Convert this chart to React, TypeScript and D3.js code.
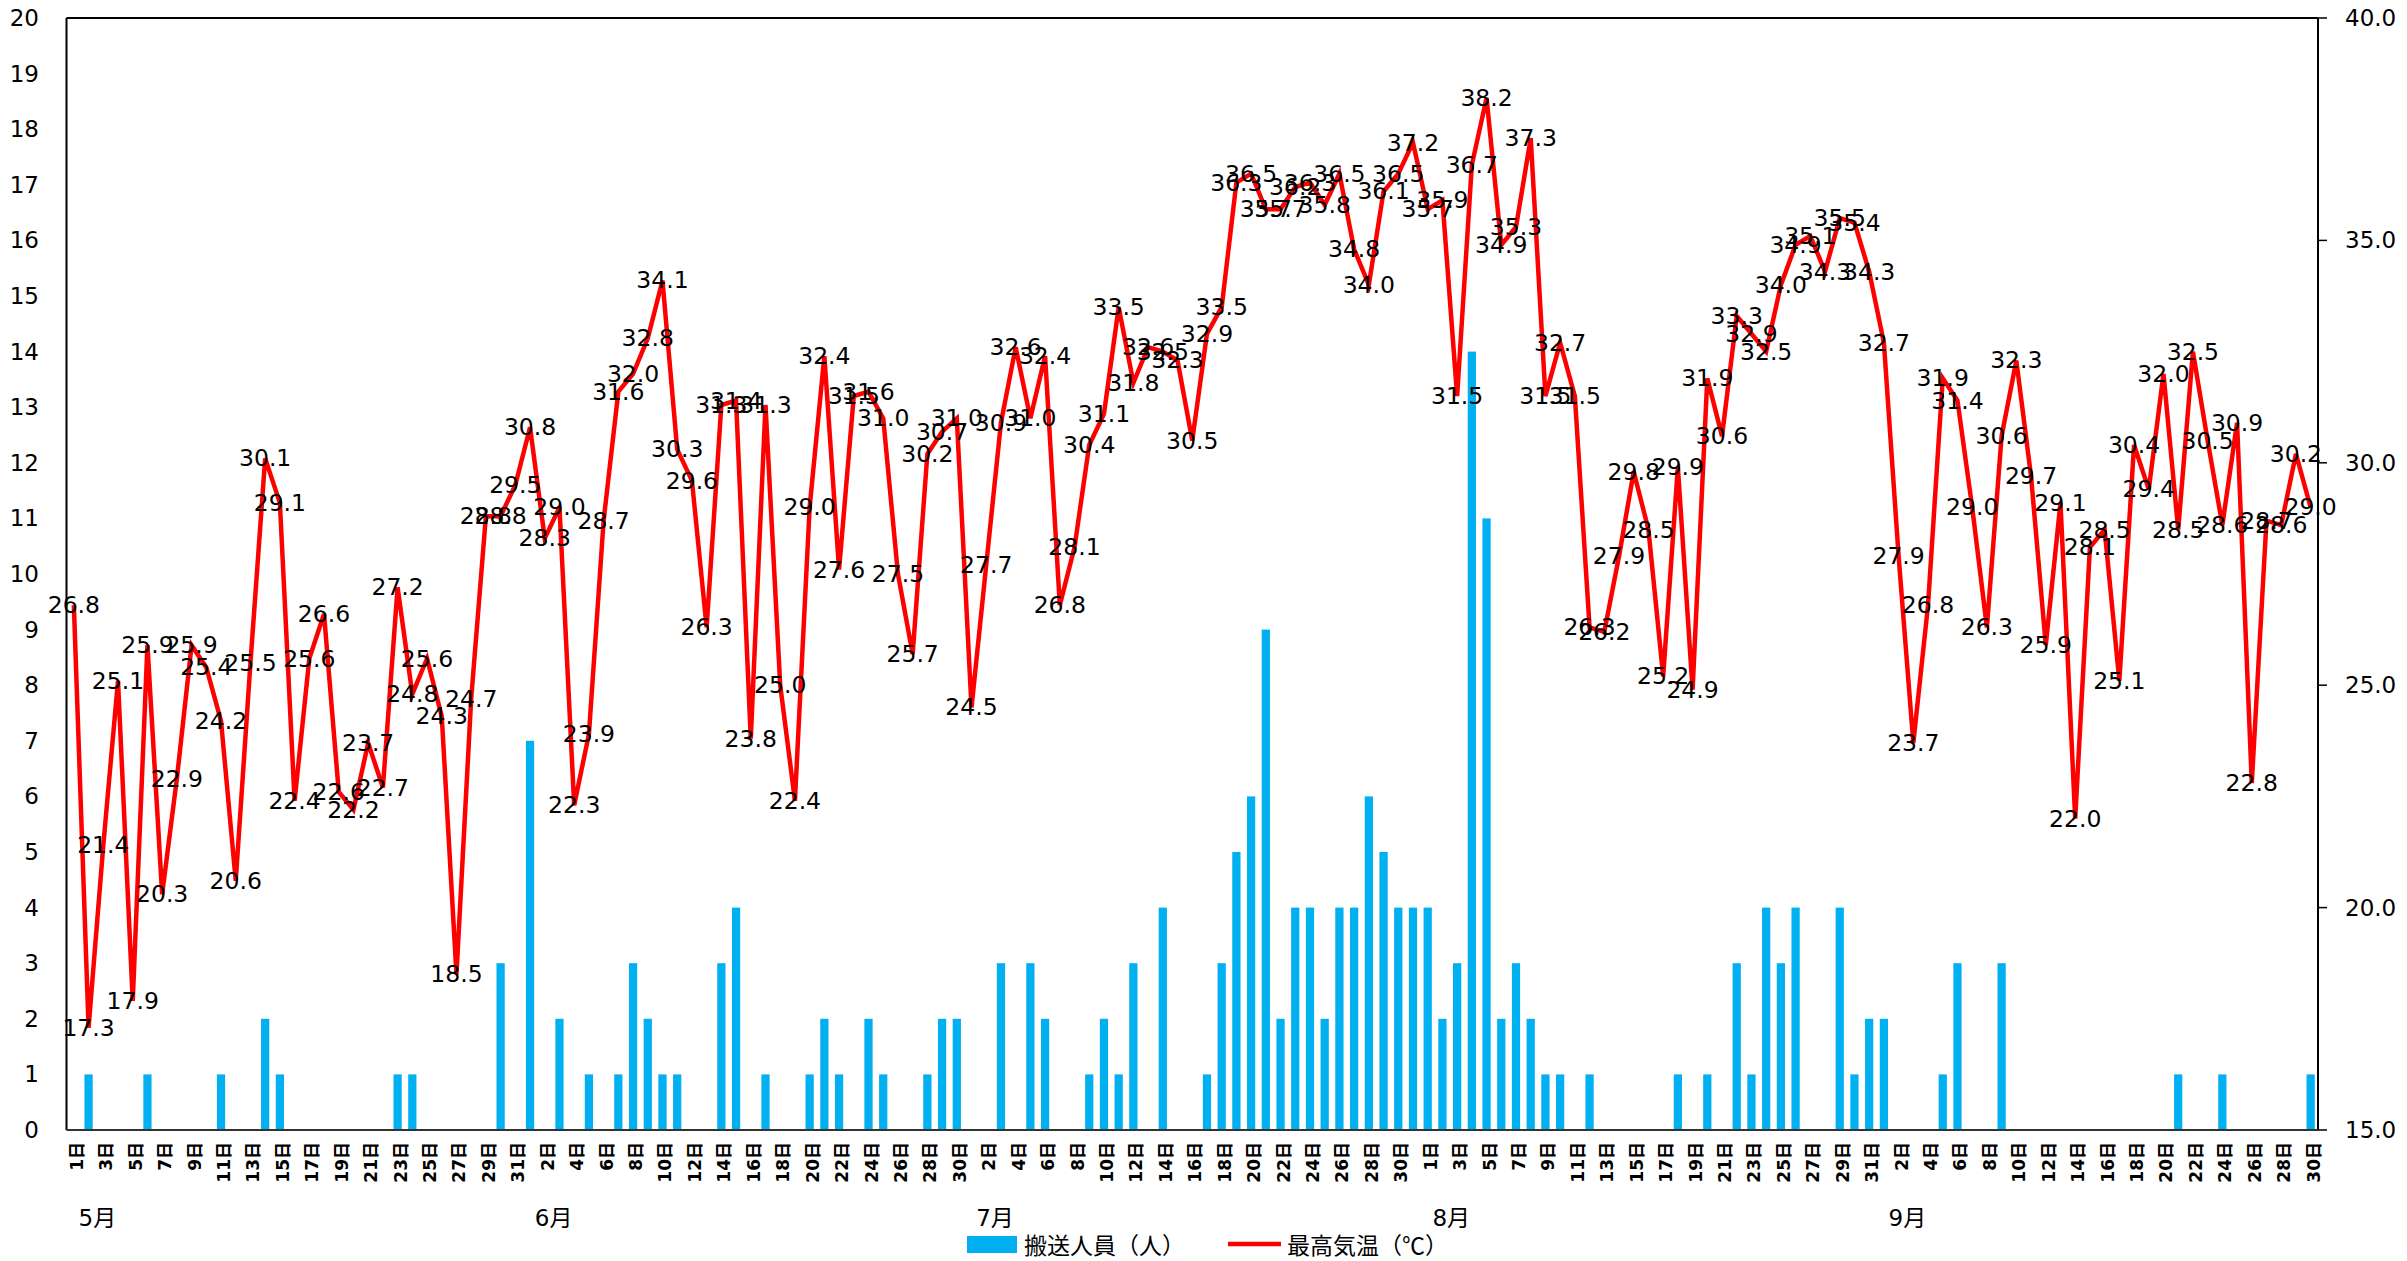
import React from 'react'
import { scaleBand, scaleLinear, line, range, format } from 'd3'

// month names on the second row of the x axis
const monthNames = ['5月', '6月', '7月', '8月', '9月']

// max temperature per day (℃)
const tempMay = [26.8, 17.3, 21.4, 25.1, 17.9, 25.9, 20.3, 22.9, 25.9, 25.4, 24.2, 20.6, 25.5, 30.1, 29.1, 22.4, 25.6, 26.6, 22.6, 22.2, 23.7, 22.7, 27.2, 24.8, 25.6, 24.3, 18.5, 24.7, 28.8, 28.8, 29.5]
const tempJun = [30.8, 28.3, 29.0, 22.3, 23.9, 28.7, 31.6, 32.0, 32.8, 34.1, 30.3, 29.6, 26.3, 31.3, 31.4, 23.8, 31.3, 25.0, 22.4, 29.0, 32.4, 27.6, 31.5, 31.6, 31.0, 27.5, 25.7, 30.2, 30.7, 31.0]
const tempJul = [24.5, 27.7, 30.9, 32.6, 31.0, 32.4, 26.8, 28.1, 30.4, 31.1, 33.5, 31.8, 32.6, 32.5, 32.3, 30.5, 32.9, 33.5, 36.3, 36.5, 35.7, 35.7, 36.2, 36.3, 35.8, 36.5, 34.8, 34.0, 36.1, 36.5, 37.2]
const tempAug = [35.7, 35.9, 31.5, 36.7, 38.2, 34.9, 35.3, 37.3, 31.5, 32.7, 31.5, 26.3, 26.2, 27.9, 29.8, 28.5, 25.2, 29.9, 24.9, 31.9, 30.6, 33.3, 32.9, 32.5, 34.0, 34.9, 35.1, 34.3, 35.5, 35.4, 34.3]
const tempSep = [32.7, 27.9, 23.7, 26.8, 31.9, 31.4, 29.0, 26.3, 30.6, 32.3, 29.7, 25.9, 29.1, 22.0, 28.1, 28.5, 25.1, 30.4, 29.4, 32.0, 28.5, 32.5, 30.5, 28.6, 30.9, 22.8, 28.7, 28.6, 30.2, 29.0]

// transported people per day
const peopleMay = [0, 1, 0, 0, 0, 1, 0, 0, 0, 0, 1, 0, 0, 2, 1, 0, 0, 0, 0, 0, 0, 0, 1, 1, 0, 0, 0, 0, 0, 3, 0]
const peopleJun = [7, 0, 2, 0, 1, 0, 1, 3, 2, 1, 1, 0, 0, 3, 4, 0, 1, 0, 0, 1, 2, 1, 0, 2, 1, 0, 0, 1, 2, 2]
const peopleJul = [0, 0, 3, 0, 3, 2, 0, 0, 1, 2, 1, 3, 0, 4, 0, 0, 1, 3, 5, 6, 9, 2, 4, 4, 2, 4, 4, 6, 5, 4, 4]
const peopleAug = [4, 2, 3, 14, 11, 2, 3, 2, 1, 1, 0, 1, 0, 0, 0, 0, 0, 1, 0, 1, 0, 3, 1, 4, 3, 4, 0, 0, 4, 1, 2]
const peopleSep = [2, 0, 0, 0, 1, 3, 0, 0, 3, 0, 0, 0, 0, 0, 0, 0, 0, 0, 0, 0, 1, 0, 0, 1, 0, 0, 0, 0, 0, 1]

const leftTicks = range(0, 21)
const rightTicks = [15, 20, 25, 30, 35, 40]

const legendBar = '搬送人員（人）'
const legendLine = '最高気温（℃）'

const numFont = '"DejaVu Sans", "Noto Sans CJK JP", sans-serif'
const jpFont = '"Noto Sans CJK JP", sans-serif'

type Day = { month: number; day: number; temp: number; people: number }

const App = () => {
  const temps = [tempMay, tempJun, tempJul, tempAug, tempSep]
  const people = [peopleMay, peopleJun, peopleJul, peopleAug, peopleSep]

  const days: Day[] = []
  const monthStart: number[] = []
  temps.forEach((arr, m) => {
    monthStart.push(days.length)
    arr.forEach((t, d) => days.push({ month: m, day: d + 1, temp: t, people: people[m][d] }))
  })

  const left = 66.5, right = 2318, top = 18, bottom = 1130

  const x = scaleBand<number>()
    .domain(days.map((_, i) => i))
    .range([left, right])
    .paddingInner(0.44)
    .paddingOuter(0.22)
  const step = x.step()
  const cx = (i: number) => (x(i) as number) + x.bandwidth() / 2

  const yL = scaleLinear().domain([0, 20]).range([bottom, top])
  const yR = scaleLinear().domain([15, 40]).range([bottom, top])

  const path = line<Day>()
    .x((_, i) => cx(i))
    .y((d) => yR(d.temp))(days) as string

  const f1 = format('.1f')

  return (
    <svg width={2407} height={1261} style={{ position: 'absolute', left: 0, top: 0, background: '#fff' }}>
      {/* bars */}
      {days.map((d, i) =>
        d.people > 0 ? (
          <rect key={'b' + i} x={x(i)} y={yL(d.people)} width={x.bandwidth()} height={bottom - yL(d.people)} fill="#00B0F0" />
        ) : null
      )}

      {/* temperature line */}
      <path d={path} fill="none" stroke="#FF0000" strokeWidth={4.5} strokeLinejoin="miter" />

      {/* data labels */}
      {days.map((d, i) => (
        <text key={'l' + i} x={cx(i)} y={yR(d.temp)} textAnchor="middle" dominantBaseline="central"
          fontFamily={numFont} fontSize={23.5} fill="#000">
          {f1(d.temp)}
        </text>
      ))}

      {/* frame + axes */}
      <line x1={left} x2={right} y1={top} y2={top} stroke="#000" strokeWidth={2} />
      <line x1={left} x2={left} y1={top} y2={bottom} stroke="#000" strokeWidth={2} />
      <line x1={right} x2={right} y1={top} y2={bottom} stroke="#000" strokeWidth={2} />
      <line x1={left} x2={right} y1={bottom} y2={bottom} stroke="#333" strokeWidth={2} />

      {leftTicks.map((t) => (
        <text key={'yl' + t} x={39} y={yL(t)} textAnchor="end" dominantBaseline="central" fontFamily={numFont} fontSize={23} fill="#000">
          {t}
        </text>
      ))}

      {rightTicks.map((t) => (
        <g key={'yr' + t}>
          <line x1={right} x2={right + 9} y1={yR(t)} y2={yR(t)} stroke="#000" strokeWidth={1.5} />
          <text x={2345} y={yR(t)} dominantBaseline="central" fontFamily={numFont} fontSize={23} fill="#000">
            {f1(t)}
          </text>
        </g>
      ))}

      {/* day labels, every second day */}
      {days.map((d, i) =>
        i % 2 === 0 ? (
          <text key={'x' + i} transform={`translate(${cx(i) + 3},1142) rotate(-90)`} textAnchor="end" dominantBaseline="central"
            fontFamily={numFont} fontWeight="bold" fontSize={17} fill="#000">
            {d.day + '日'}
          </text>
        ) : null
      )}

      {monthNames.map((m, k) => (
        <text key={'m' + k} x={(x(monthStart[k]) as number) + step * 0.6} y={1218} dominantBaseline="central"
          fontFamily={numFont} fontSize={23} fill="#000">
          {m}
        </text>
      ))}

      {/* legend */}
      <rect x={967} y={1236} width={50} height={17} fill="#00B0F0" />
      <text x={1024} y={1244} dominantBaseline="central" fontFamily={jpFont} fontSize={23} fill="#000">{legendBar}</text>
      <line x1={1228} x2={1281} y1={1244} y2={1244} stroke="#FF0000" strokeWidth={4.5} />
      <text x={1287} y={1244} dominantBaseline="central" fontFamily={jpFont} fontSize={23} fill="#000">{legendLine}</text>
    </svg>
  )
}

export default App
